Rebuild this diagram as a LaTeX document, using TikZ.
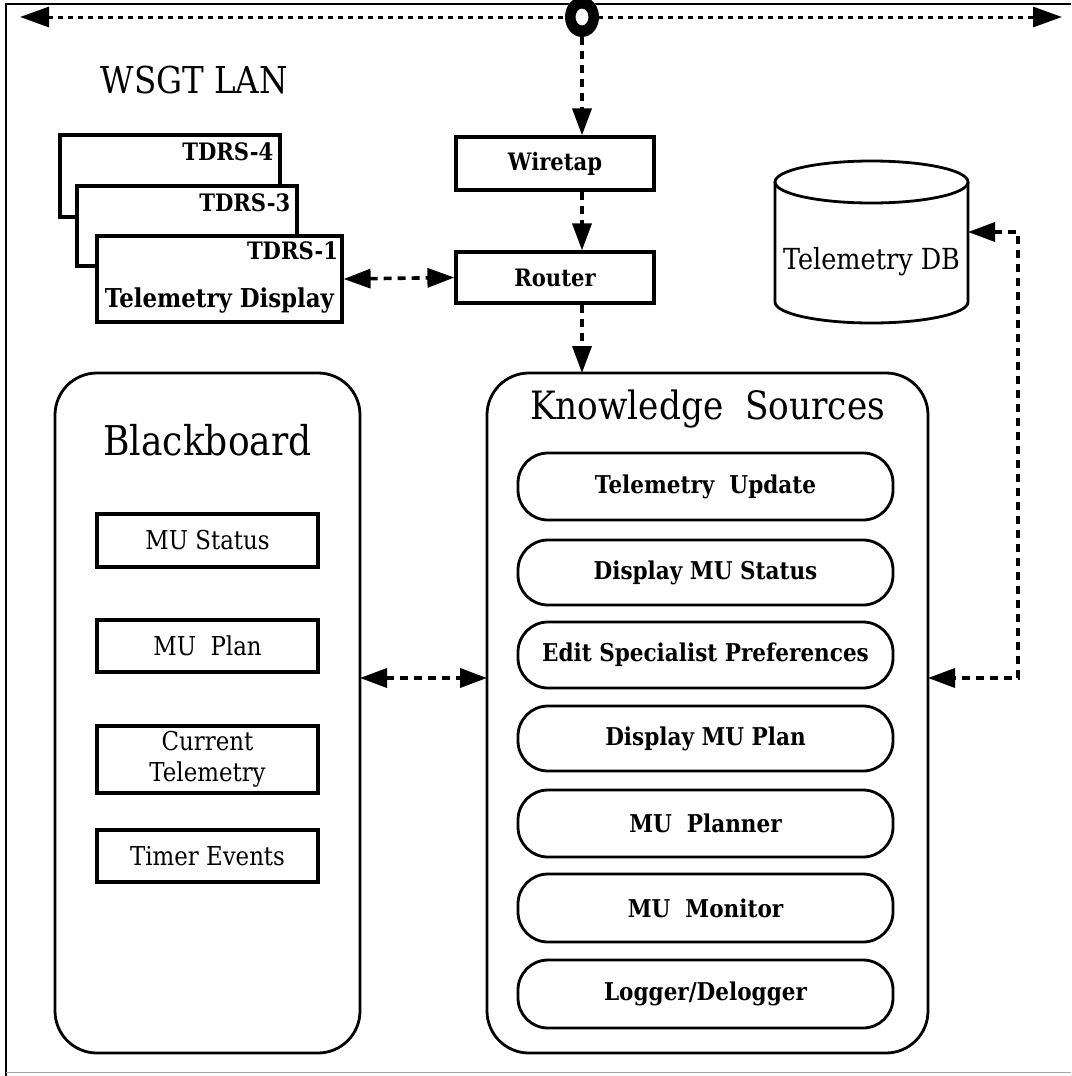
\documentclass[tikz,border=0pt]{standalone}
\usepackage{fontspec}
\setmainfont{DejaVu Serif}[FakeStretch=0.88]
\usetikzlibrary{arrows.meta}

\tikzset{
  box/.style={draw, line width=3.2pt, inner sep=0pt},
  stad/.style={draw, line width=2.8pt, rounded corners=30pt, inner sep=0pt},
  panel/.style={draw, line width=2.8pt, rounded corners=42pt},
  link/.style={line width=3.6pt, dash pattern=on 8pt off 6pt, -{Triangle[length=27pt,width=19pt]}},
  duplex/.style={line width=3.6pt, dash pattern=on 8pt off 6pt,
    {Triangle[length=27pt,width=19pt]}-{Triangle[length=27pt,width=19pt]}},
  bftext/.style={font=\fontsize{24}{27}\selectfont\bfseries},
  ksfont/.style={font=\fontsize{24.5}{27}\selectfont\bfseries},
  rmtext/.style={font=\fontsize{26}{31}\selectfont},
}

\begin{document}
\begin{tikzpicture}[x=1pt,y=-1pt]
  \useasboundingbox (0,0) rectangle (1071,1076);

  % outer frame
  \draw[line width=2.5pt] (6,1076) -- (6,4) -- (1071,4);
  \draw[line width=1pt, black!35] (6,1072) -- (1071,1072);

  % LAN backbone with tap point
  \coordinate (lanL) at (20,17);
  \coordinate (lanR) at (1062,17);
  \coordinate (tap) at (582,17);
  \coordinate (tapS) at (582,37);
  \draw[line width=3pt, dash pattern=on 5pt off 5pt,
        {Triangle[length=29pt,width=20pt]}-{Triangle[length=29pt,width=20pt]}] (lanL) -- (lanR);
  \fill[white] (tap) ellipse [x radius=17pt, y radius=20pt];
  \fill[even odd rule] (tap) ellipse [x radius=17pt, y radius=20pt]
                       (tap) ellipse [x radius=6.5pt, y radius=8.5pt];
  \node[font=\fontsize{37}{40}\selectfont, anchor=west] (lan) at (97,80) {WSGT LAN};

  % wiretap and router
  \node[box, minimum width=198pt, minimum height=53pt, bftext] (wire) at (555,163.5) {Wiretap};
  \node[box, minimum width=198pt, minimum height=51pt, bftext] (router) at (555,277.5) {Router};

  % stacked telemetry displays
  \draw[box, fill=white] (60,135) rectangle (280,217);
  \node[bftext, anchor=north east] (t4) at (277,139) {TDRS-4};
  \draw[box, fill=white] (77,186) rectangle (297,266);
  \node[bftext, anchor=north east] (t3) at (294,190) {TDRS-3};
  \node[box, fill=white, minimum width=245pt, minimum height=86pt] (disp) at (219.5,279) {};
  \node[bftext, anchor=north east] (t1) at ([xshift=-2pt,yshift=-4pt]disp.north east) {TDRS-1};
  \node[font=\fontsize{26}{29}\selectfont\bfseries, anchor=south] (t1b)
       at ([yshift=7pt]disp.south) {Telemetry Display};

  % telemetry database cylinder
  \draw[line width=2.8pt] (775,182) -- (775,302)
        arc[start angle=180, end angle=360, x radius=96.5pt, y radius=21pt]
        -- (968,182);
  \draw[line width=2.8pt] (871.5,182) ellipse [x radius=96.5pt, y radius=21pt];
  \node[font=\fontsize{29}{32}\selectfont] (db) at (871.5,262) {Telemetry DB};
  \coordinate (dbE) at (968,232);

  % blackboard panel
  \draw[panel] (55,373) rectangle (360,1053);
  \node[font=\fontsize{41}{46}\selectfont] (bbt) at (207.5,440) {Blackboard};
  \coordinate (bbE) at (360,678);
  \node[box, minimum width=221pt, minimum height=53pt, rmtext] (s1) at (207.5,540.5) {MU Status};
  \node[box, minimum width=221pt, minimum height=52pt, rmtext] (s2) at (207.5,646) {MU\ \ Plan};
  \node[box, minimum width=221pt, minimum height=67pt, rmtext, align=center] (s3) at (207.5,759.5) {Current\\Telemetry};
  \node[box, minimum width=221pt, minimum height=52pt, rmtext] (s4) at (207.5,856) {Timer Events};

  % knowledge sources panel
  \draw[panel] (487,373) rectangle (928,1053);
  \coordinate (ksN) at (582,373);
  \coordinate (ksW) at (487,678);
  \coordinate (ksE) at (928,678);
  \node[font=\fontsize{39}{44}\selectfont] (kst) at (707.5,409) {Knowledge\ \ Sources};
  \foreach \y/\h/\t [count=\i] in {
      486.5/67/{Telemetry\ \ Update},
      572.5/65/{Display MU Status},
      655/66/{Edit Specialist Preferences},
      738.5/65/{Display MU Plan},
      823.5/67/{MU\ \ Planner},
      908/68/{MU\ \ Monitor},
      994/68/{Logger/Delogger}} {
    \node[stad, minimum width=375pt, minimum height=\h pt, ksfont] (k\i) at (705.5,\y) {\t};
  }

  % connectors
  \draw[link] (tapS) -- (wire.north -| tapS);
  \draw[link] (wire.south -| tapS) -- (router.north -| tapS);
  \draw[link] (router.south -| tapS) -- (ksN);
  \draw[duplex] (disp.east) -- (router.west);
  \draw[duplex] (bbE) -- (ksW);
  \coordinate (bend1) at (1018,232);
  \coordinate (bend2) at (1018,678);
  \draw[duplex] (dbE) -- (bend1) -- (bend2) -- (ksE);
\end{tikzpicture}
\end{document}
